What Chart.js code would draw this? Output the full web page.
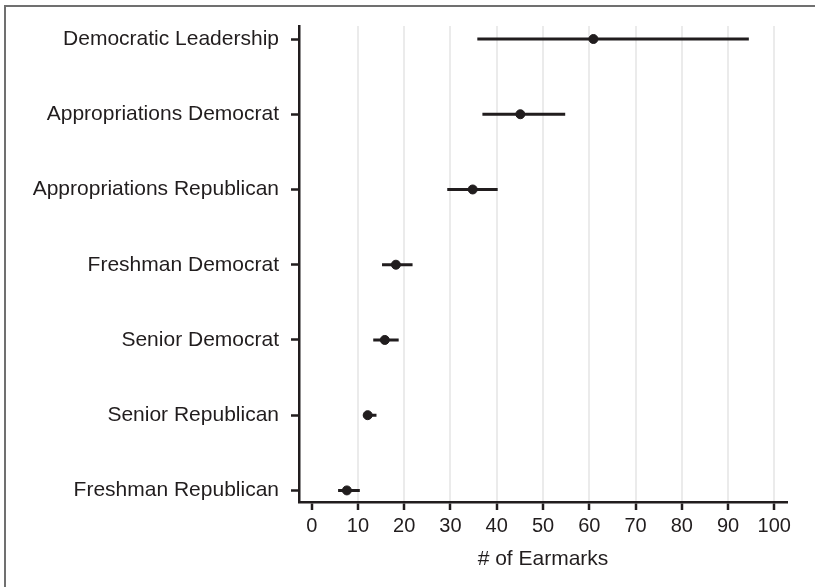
<!DOCTYPE html>
<html>
<head>
<meta charset="utf-8">
<script src="https://cdn.jsdelivr.net/npm/chart.js@4"></script>
<style>
  html, body { margin: 0; padding: 0; background: #fff; }
  #wrap { position: relative; width: 815px; height: 587px; }
  #frame { position: absolute; left: 4px; top: 5px; right: 0; bottom: 0;
           border-left: 2px solid #707070; border-top: 2px solid #707070; pointer-events: none; }
</style>
</head>
<body>
<div id="wrap">
  <canvas id="chart" width="815" height="587"></canvas>
  <div id="frame"></div>
</div>
<script>
const categories = ['Democratic Leadership', 'Appropriations Democrat', 'Appropriations Republican',
  'Freshman Democrat', 'Senior Democrat', 'Senior Republican', 'Freshman Republican']
const estimate = [60.9, 45.1, 34.8, 18.2, 15.8, 12.1, 7.6]
const lower = [35.8, 36.9, 29.3, 15.2, 13.3, 11.2, 5.7]
const upper = [94.5, 54.8, 40.2, 21.8, 18.8, 14.0, 10.4]
const xTicks = [0, 10, 20, 30, 40, 50, 60, 70, 80, 90, 100]

const ink = '#211d1e'
const family = '"Liberation Sans", Arial, sans-serif'
const labelFont = { family: family, size: 21 }
const tickFont = { family: family, size: 20 }

// one broken line holds all the intervals
const intervals = []
categories.forEach((c, i) => {
  intervals.push({ x: lower[i], y: i }, { x: upper[i], y: i }, { x: null, y: null })
})

new Chart(document.getElementById('chart'), {
  type: 'scatter',
  data: {
    datasets: [
      {
        type: 'line',
        data: intervals,
        borderColor: ink,
        borderWidth: 3,
        pointRadius: 0,
        spanGaps: false,
        order: 2
      },
      {
        data: estimate.map((v, i) => ({ x: v, y: i })),
        backgroundColor: ink,
        borderColor: ink,
        pointRadius: 4.5,
        order: 1
      }
    ]
  },
  options: {
    responsive: false,
    animation: false,
    layout: { padding: { top: 26, left: 0, right: 28, bottom: 0 } },
    plugins: { legend: { display: false }, tooltip: { enabled: false } },
    scales: {
      x: {
        type: 'linear',
        min: -2.75,
        max: 102.75,
        afterBuildTicks: s => { s.ticks = xTicks.map(v => ({ value: v })) },
        afterFit: s => { s.height = 85 },
        grid: {
          color: ctx => (ctx.tick && ctx.tick.value === 0 ? 'rgba(0,0,0,0)' : '#ebebeb'),
          lineWidth: 2,
          tickColor: ink,
          tickWidth: 2.5,
          tickLength: 8
        },
        border: { color: ink, width: 2.5 },
        ticks: { color: ink, font: tickFont, padding: 4, maxRotation: 0 },
        title: { display: true, text: '# of Earmarks', color: ink, font: labelFont, padding: { bottom: 15 } }
      },
      y: {
        type: 'linear',
        reverse: true,
        min: -0.173,
        max: 6.154,
        afterBuildTicks: s => { s.ticks = categories.map((c, i) => ({ value: i })) },
        afterFit: s => { s.width = 299 },
        grid: {
          drawOnChartArea: false,
          tickColor: ink,
          tickWidth: 2.5,
          tickLength: 8
        },
        border: { color: ink, width: 2.5 },
        ticks: { color: ink, font: labelFont, padding: 12, callback: v => categories[v] }
      }
    }
  }
})
</script>
</body>
</html>
